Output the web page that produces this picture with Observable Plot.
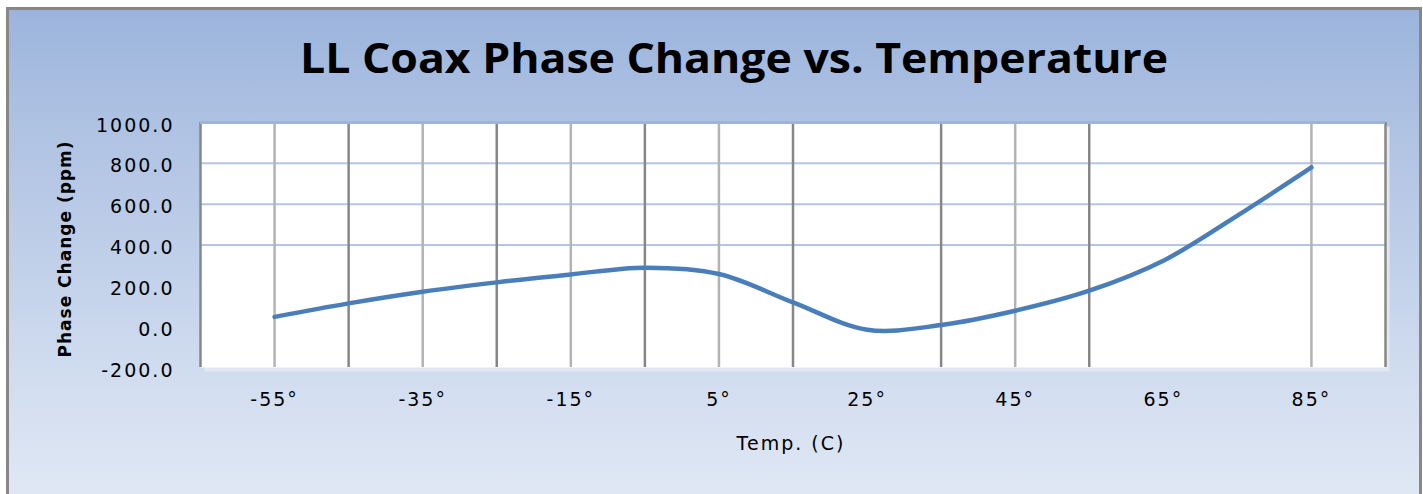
<!DOCTYPE html>
<html>
<head>
<meta charset="utf-8">
<script src="https://cdn.jsdelivr.net/npm/d3@7"></script>
<script src="https://cdn.jsdelivr.net/npm/@observablehq/plot@0.6"></script>
<style>
  html, body { margin: 0; padding: 0; background: #ffffff; }
  body { width: 1423px; height: 494px; overflow: hidden; position: relative; }
  #frame {
    position: absolute; left: 6px; top: 7px; width: 1410px; height: 490px;
    border: 3px solid #878787; border-bottom: none;
    background: linear-gradient(to bottom, #9cb4dc 0%, #adc1e2 22%, #d3def0 78%, #e0e8f4 100%);
  }
  #chart { position: absolute; left: 0; top: 0; }
  .ttl { position: absolute; white-space: nowrap; color: #000; }
  #title { left: 734px; top: 57px; font-family: "Open Sans", sans-serif; font-weight: 700; font-size: 42px; line-height: 1; }
  #ytitle { left: 65px; top: 249px; font-family: "DejaVu Sans", sans-serif; font-weight: 700; font-size: 17px; letter-spacing: 1px; line-height: 1; transform: translate(-50%, -50%) rotate(-90deg); }
  #xtitle { left: 791px; top: 443px; font-family: "DejaVu Sans", sans-serif; font-size: 19px; letter-spacing: 2px; line-height: 1; transform: translate(-50%, -50%); }
</style>
</head>
<body>
<div id="frame"></div>
<div id="chart"></div>
<div class="ttl" id="title">LL Coax Phase Change vs. Temperature</div>
<div class="ttl" id="ytitle">Phase Change (ppm)</div>
<div class="ttl" id="xtitle">Temp. (C)</div>
<script>
// Data
const temps = [-55, -45, -35, -25, -15, -5, 5, 15, 25, 35, 45, 55, 65, 75, 85];
const phase = [48, 114, 171, 217, 256, 289, 258, 119, -15, 8, 78, 176, 323, 544, 780];

// Axis ticks / gridlines
const xTicks = [-55, -35, -15, 5, 25, 45, 65, 85];
const yTicks = [-200, 0, 200, 400, 600, 800, 1000];
const gridDark = [-65, -45, -25, -5, 15, 35, 55, 95];
const gridLight = [-55, -35, -15, 5, 45, 85];
const gridY = [400, 600, 800];
const xDomain = [-65, 95];
const yDomain = [-200, 1000];

const data = temps.map((t, i) => ({t, v: phase[i]}));

const chart = Plot.plot({
  width: 1423,
  height: 494,
  marginLeft: 200,
  marginRight: 38,
  marginTop: 122,
  marginBottom: 127,
  x: {domain: xDomain},
  y: {domain: yDomain},
  style: {background: "transparent", fontFamily: "DejaVu Sans, sans-serif", fontSize: "19px", letterSpacing: "2px", color: "#000"},
  marks: [
    Plot.frame({fill: "#e1e8f4", stroke: null, dx: 4, dy: 4}),
    Plot.frame({fill: "#ffffff", stroke: null}),
    Plot.ruleY(gridY, {stroke: "#b4c6e3", strokeWidth: 2}),
    Plot.ruleX(gridLight, {stroke: "#b3b3b3", strokeWidth: 2.5}),
    Plot.ruleX(gridDark, {stroke: "#878787", strokeWidth: 2.5}),
    Plot.ruleY([yDomain[1]], {stroke: "#9fb4da", strokeWidth: 3}),
    Plot.line(data, {x: "t", y: "v", curve: "catmull-rom", stroke: "#4a7ebb", strokeWidth: 4.5}),
    Plot.axisX(xTicks, {tickSize: 0, tickPadding: 25, tickFormat: d => d + "°", label: null, fill: "#000"}),
    Plot.axisY(yTicks, {tickSize: 0, tickPadding: 26, tickFormat: d => d.toFixed(1), label: null, fill: "#000", dy: 3})
  ]
});
document.getElementById("chart").appendChild(chart);

// Fit title to its width in the reference
const t = document.getElementById("title");
const w = t.getBoundingClientRect().width;
const s = 868 / w;
t.style.transform = `translate(-50%, -50%) scaleX(${s})`;
</script>
</body>
</html>
